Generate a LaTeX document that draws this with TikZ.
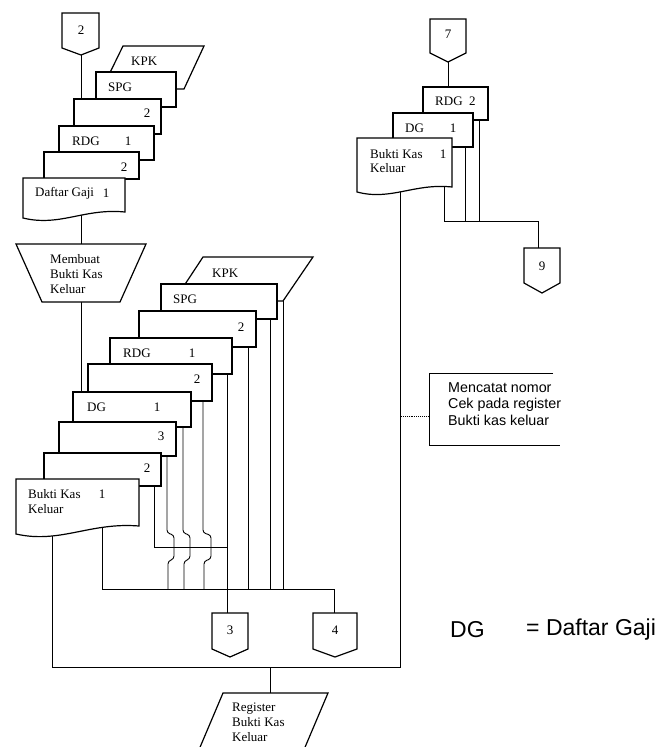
\documentclass[tikz,border=0pt]{standalone}
\usepackage{fontspec}
\setmainfont{Liberation Serif}
\newfontfamily\arialfont{Liberation Sans}
\begin{document}
\begin{tikzpicture}[x=1pt,y=-1pt,
  box/.style={draw=black,fill=white,line width=1.2pt,line join=miter},
  ln/.style={draw=black,line width=0.9pt},
  hop/.style={ln,rounded corners=3pt},
  lbl/.style={font=\fontsize{13}{15}\selectfont,inner sep=0pt,text=black},
  lblw/.style={lbl,anchor=west,align=left},
  sans/.style={font=\arialfont\fontsize{14.3}{16.5}\selectfont,inner sep=0pt,anchor=west,align=left},
  big/.style={font=\arialfont\fontsize{23}{26}\selectfont,inner sep=0pt,anchor=west}]
\useasboundingbox (0,0) rectangle (659,747);
\clip (0,0) rectangle (659,747);

% ---------- connectors (drawn first, shapes cover their ends) ----------
\draw[ln] (81,55) -- (81,105);
\draw[ln] (81,210) -- (81,250);
\draw[ln] (81,295) -- (81,400);
\draw[ln] (154,480) -- (154,547) -- (227,547);
\draw[hop] (167,450) -- (167,533) -- (174,535) -- (174,559) -- (168,561) -- (168,589);
\draw[hop] (183,420) -- (183,533) -- (190,535) -- (190,559) -- (184,561) -- (184,589);
\draw[hop] (203,395) -- (203,533) -- (211,535) -- (211,559) -- (204,561) -- (204,589);
\draw[ln] (227,370) -- (227,620);
\draw[ln] (248,340) -- (248,589);
\draw[ln] (270,315) -- (270,589);
\draw[ln] (283,298) -- (283,589);
\draw[ln] (102,520) -- (102,589) -- (334,589) -- (334,620);
\draw[ln] (400,185) -- (400,667) -- (52,667) -- (52,530);
\draw[ln] (270,667) -- (270,700);
\draw[ln] (448,60) -- (448,95);
\draw[ln] (479,110) -- (479,221);
\draw[ln] (465,140) -- (465,221);
\draw[ln] (444,180) -- (444,221) -- (538,221) -- (538,255);
\draw[ln] (553,373) -- (429,373) -- (429,445) -- (560,445);
\draw[ln,densely dotted,line width=0.7pt] (401,416) -- (429,416);

% ---------- off-page connectors ----------
\draw[box] (62,13) -- (99,13) -- (99,48) -- (81,55) -- (62,48) -- cycle;
\draw[box] (430,19) -- (466,19) -- (466,53) -- (448,62) -- (430,53) -- cycle;
\draw[box] (524,248) -- (560,248) -- (560,283) -- (542,293) -- (524,283) -- cycle;
\draw[box] (212,613) -- (248,613) -- (248,649) -- (230,657) -- (212,649) -- cycle;
\draw[box] (313,613) -- (357,613) -- (357,649) -- (335,657) -- (313,649) -- cycle;

% ---------- top stack ----------
\draw[box] (102,89) -- (123,46) -- (204,46) -- (184,89) -- cycle;
\draw[box] (96,72) rectangle (176,107);
\draw[box] (74,99) rectangle (161,134);
\draw[box] (59,126) rectangle (154,160);
\draw[box] (44,152) rectangle (139,179);
\draw[box] (23,178) -- (125,178) -- (125,212) .. controls (84,208) and (60,227) .. (23,218) -- cycle;

% ---------- manual operation ----------
\draw[box] (16,244) -- (146,244) -- (120,302) -- (42,302) -- cycle;

% ---------- second stack ----------
\draw[box] (174,301) -- (203,257) -- (313,257) -- (283,301) -- cycle;
\draw[box] (161,284) rectangle (277,319);
\draw[box] (139,311) rectangle (256,347);
\draw[box] (110,338) rectangle (232,374);
\draw[box] (88,364) rectangle (212,401);
\draw[box] (73,392) rectangle (191,427);
\draw[box] (59,422) rectangle (176,456);
\draw[box] (44,453) rectangle (161,486);
\draw[box] (16,479) -- (139,479) -- (139,526) .. controls (90,522) and (60,544) .. (16,534) -- cycle;

% ---------- right stack ----------
\draw[box] (423,87) rectangle (488,120);
\draw[box] (393,113) rectangle (473,147);
\draw[box] (357,138) -- (452,138) -- (452,187) .. controls (414,183) and (391,201) .. (357,192) -- cycle;

% ---------- register ----------
\draw[box] (223,693) -- (328,693) -- (303,752) -- (198,752) -- cycle;

% ---------- texts ----------
\node[lbl] (c2) at (81,30) {2};
\node[lbl] (c7) at (448,34) {7};
\node[lbl] (c9) at (542,266) {9};
\node[lbl] (c3) at (230,630) {3};
\node[lbl] (c4) at (335,630) {4};

\node[lblw] (t1) at (131,61) {KPK};
\node[lblw] (t2) at (108,87) {SPG};
\node[lbl] (t3) at (147,113) {2};
\node[lblw] (t4) at (72,141) {RDG};
\node[lbl] (t5) at (128,141) {1};
\node[lbl] (t6) at (124,167) {2};
\node[lblw] (t7) at (35,193) {Daftar Gaji};
\node[lbl] (t8) at (106,193) {1};

\node[lblw,font=\fontsize{13}{15}\selectfont] (mb) at (50,274) {Membuat\\Bukti Kas\\Keluar};

\node[lblw] (s1) at (212,273) {KPK};
\node[lblw] (s2) at (173,299) {SPG};
\node[lbl] (s3) at (241,327) {2};
\node[lblw] (s4) at (123,353) {RDG};
\node[lbl] (s5) at (192,353) {1};
\node[lbl] (s6) at (197,379) {2};
\node[lblw] (s7) at (87,407) {DG};
\node[lbl] (s8) at (157,407) {1};
\node[lbl] (s9) at (161,436) {3};
\node[lbl] (s10) at (147,468) {2};
\node[lblw] (s11) at (28,494) {Bukti Kas};
\node[lbl] (s12) at (102,494) {1};
\node[lblw] (s13) at (28,509) {Keluar};

\node[lblw] (r1) at (435,101) {RDG\ \ 2};
\node[lblw] (r2) at (405,128) {DG};
\node[lbl] (r3) at (453,128) {1};
\node[lblw] (r4) at (370,154) {Bukti Kas};
\node[lbl] (r5) at (443,154) {1};
\node[lblw] (r6) at (370,168) {Keluar};

\node[lblw] (reg) at (232,722) {Register\\Bukti Kas\\Keluar};

\node[sans] (note) at (448,404) {Mencatat nomor\\Cek pada register\\Bukti kas keluar};

\node[big] (lg1) at (450,630) {DG};
\node[big] (lg2) at (526,630) {= Daftar Gaji};
\end{tikzpicture}
\end{document}
